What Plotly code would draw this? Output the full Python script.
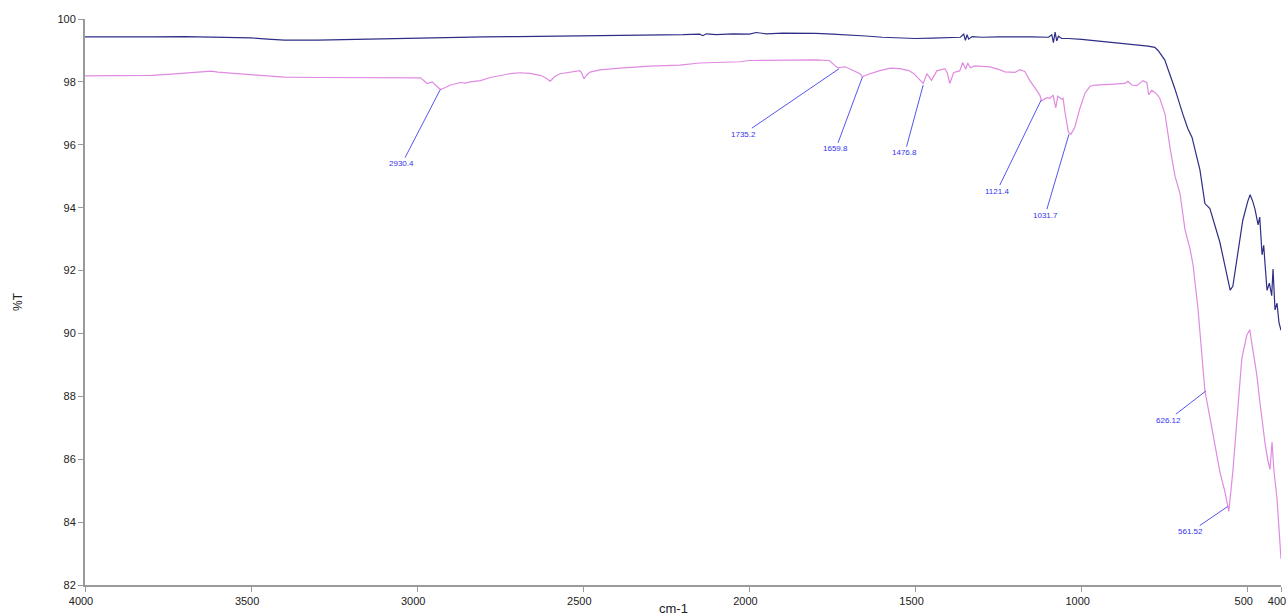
import plotly.graph_objects as go

# ---- top spectrum (navy) ----
top_wn = [4000, 3900, 3800, 3700, 3600, 3500, 3450, 3400, 3300, 3200, 3100, 3000, 2900, 2800,
          2700, 2600, 2500, 2400, 2300, 2200, 2150, 2140, 2130, 2100, 2050, 2000, 1980, 1950,
          1900, 1850, 1800, 1750, 1700, 1650, 1600, 1550, 1500, 1450, 1400, 1365, 1355, 1350,
          1345, 1340, 1330, 1300, 1250, 1200, 1150, 1100, 1090, 1085, 1080, 1075, 1070, 1060,
          1040, 1000, 950, 900, 850, 800, 780, 770, 750, 720, 695, 680, 668, 644, 629, 614,
          584, 565, 553, 545, 530, 515, 500, 493, 485, 478, 469, 464, 457, 452, 448, 442,
          435, 428, 424, 418, 412, 406, 400]
top_t = [99.43, 99.42, 99.43, 99.44, 99.43, 99.40, 99.36, 99.33, 99.33, 99.35, 99.38, 99.41, 99.42, 99.43,
         99.44, 99.45, 99.46, 99.47, 99.49, 99.50, 99.52, 99.47, 99.53, 99.50, 99.53, 99.52, 99.57, 99.53,
         99.55, 99.55, 99.54, 99.52, 99.50, 99.46, 99.42, 99.40, 99.38, 99.39, 99.40, 99.42, 99.52, 99.32,
         99.50, 99.36, 99.44, 99.42, 99.43, 99.44, 99.43, 99.42, 99.50, 99.25, 99.58, 99.30, 99.45, 99.38,
         99.38, 99.35, 99.30, 99.25, 99.20, 99.14, 99.10, 99.00, 98.70, 97.80, 96.96, 96.50, 96.24, 95.20, 94.13, 93.97,
         92.90, 92.00, 91.38, 91.50, 92.60, 93.60, 94.20, 94.41, 94.20, 93.94, 93.45, 93.70, 92.50, 92.80, 92.20, 91.37,
         91.60, 91.20, 92.05, 90.75, 90.96, 90.34, 90.10]

# ---- bottom spectrum (pink) ----
bot_wn = [4000, 3900, 3800, 3750, 3700, 3650, 3620, 3600, 3550, 3500, 3450, 3400, 3300, 3200,
          3100, 3000, 2990, 2970, 2955, 2945, 2930, 2915, 2900, 2870, 2855, 2840, 2810, 2780,
          2750, 2720, 2690, 2660, 2630, 2615, 2600, 2585, 2570, 2540, 2525, 2510, 2505, 2498,
          2490, 2480, 2450, 2390, 2300, 2209, 2150, 2100, 2028, 2000, 1950, 1900, 1850, 1800,
          1760, 1745, 1735, 1712, 1690, 1667, 1660, 1640, 1607, 1576, 1547, 1520, 1505, 1490,
          1477, 1466, 1452, 1436, 1412, 1405, 1397, 1385, 1367, 1358, 1349, 1343, 1335, 1322,
          1300, 1276, 1250, 1231, 1201, 1186, 1171, 1156, 1140, 1126, 1121, 1105, 1096, 1086,
          1078, 1072, 1060, 1056, 1050, 1040, 1032, 1021, 1005, 990, 975, 960, 915, 870,
          861, 849, 834, 816, 804, 798, 789, 775, 765, 749, 734, 719, 704, 689, 674, 665,
          650, 640, 635, 629, 614, 599, 584, 569, 557, 545, 530, 518, 503, 494, 485, 473,
          464, 455, 448, 440, 433, 427, 421, 412, 406, 400]
bot_t = [98.19, 98.20, 98.21, 98.24, 98.28, 98.32, 98.34, 98.31, 98.27, 98.22, 98.17, 98.15, 98.14, 98.14,
         98.15, 98.14, 98.13, 97.95, 98.00, 97.90, 97.76, 97.82, 97.90, 97.98, 97.96, 98.00, 98.04, 98.14,
         98.21, 98.26, 98.29, 98.27, 98.21, 98.14, 98.02, 98.18, 98.26, 98.31, 98.34, 98.36, 98.28, 98.10,
         98.22, 98.31, 98.38, 98.44, 98.50, 98.53, 98.60, 98.62, 98.64, 98.68, 98.69, 98.70, 98.69, 98.70,
         98.68, 98.55, 98.45, 98.48, 98.38, 98.26, 98.16, 98.25, 98.36, 98.44, 98.42, 98.36, 98.26, 98.10,
         97.95, 98.26, 98.05, 98.35, 98.42, 98.30, 97.95, 98.30, 98.35, 98.62, 98.40, 98.60, 98.45, 98.51,
         98.50, 98.48, 98.40, 98.32, 98.30, 98.39, 98.33, 98.04, 97.80, 97.58, 97.40, 97.50, 97.48, 97.58,
         97.17, 97.55, 97.45, 97.48, 97.02, 96.40, 96.34, 96.55, 97.17, 97.64, 97.86, 97.90, 97.92, 97.95,
         98.02, 97.90, 97.88, 98.04, 97.98, 97.59, 97.73, 97.62, 97.48, 96.97, 95.90, 95.00, 94.45, 93.30, 92.70, 92.20,
         90.80, 89.40, 88.70, 88.17, 87.33, 86.40, 85.60, 84.97, 84.35, 85.60, 87.64, 89.20, 89.94, 90.12, 89.50, 88.70,
         87.86, 87.02, 86.50, 85.99, 85.68, 86.55, 85.60, 84.75, 83.91, 82.83]

# ---- peak labels ----
peak_labels = ["2930.4", "1735.2", "1659.8", "1476.8", "1121.4", "1031.7", "626.12", "561.52"]
peak_wn = [2930.4, 1730, 1659.8, 1477, 1122, 1038, 626.12, 560]
peak_t = [97.76, 98.42, 98.16, 97.90, 97.42, 96.34, 88.17, 84.50]
label_wn = [3046, 2019, 1740, 1532, 1255, 1110, 740, 671]
label_t = [95.40, 96.34, 95.87, 95.75, 94.53, 93.76, 87.24, 83.70]

x_ticks = [4000, 3500, 3000, 2500, 2000, 1500, 1000, 500, 400]
y_ticks = [82, 84, 86, 88, 90, 92, 94, 96, 98, 100]

fig = go.Figure()
fig.add_trace(go.Scatter(x=top_wn, y=top_t, mode="lines",
                         line=dict(color="#2e2e86", width=1.2), showlegend=False))
fig.add_trace(go.Scatter(x=bot_wn, y=bot_t, mode="lines",
                         line=dict(color="#e08ae0", width=1.2), showlegend=False))

for txt, px_, py_, lx, ly in zip(peak_labels, peak_wn, peak_t, label_wn, label_t):
    fig.add_annotation(x=px_, y=py_, ax=lx, ay=ly, axref="x", ayref="y",
                       text=txt, showarrow=True, arrowhead=0, arrowwidth=1,
                       arrowcolor="#5555ee", standoff=0, startstandoff=0,
                       font=dict(size=8, color="#3333ee", family="Liberation Sans"))

# axis titles
fig.add_annotation(text="cm-1", xref="paper", yref="paper", x=0.492, y=0, yshift=-23,
                   yanchor="middle", showarrow=False,
                   font=dict(size=13, color="#222222", family="Liberation Sans"))
fig.add_annotation(text="%T", xref="paper", yref="paper", x=0, xshift=-67, y=0.5,
                   xanchor="center", showarrow=False, textangle=-90,
                   font=dict(size=12, color="#222222", family="Liberation Sans"))

axis_common = dict(showline=True, linecolor="#9a9a9a", linewidth=2, ticks="outside",
                   tickcolor="#9a9a9a", ticklen=5, tickwidth=1, showgrid=False,
                   zeroline=False, mirror=False, automargin=False,
                   tickfont=dict(size=11, color="#222222", family="Liberation Sans"))

fig.update_layout(
    width=1288, height=616,
    margin=dict(l=85, r=7, t=19, b=31),
    paper_bgcolor="white", plot_bgcolor="white",
    font=dict(family="Liberation Sans", color="#222222"),
    xaxis=dict(range=[4000, 400], tickvals=x_ticks, ticklabelshift=4,
               ticklabeloverflow="allow", **axis_common),
    yaxis=dict(range=[82, 100], tickvals=y_ticks, **axis_common),
)

# remove the page's default body margin so the figure fills the window exactly
fig.write_html("out.html",
               config={"displayModeBar": False},
               post_script="document.body.style.margin='0px';document.body.style.overflow='hidden';")
